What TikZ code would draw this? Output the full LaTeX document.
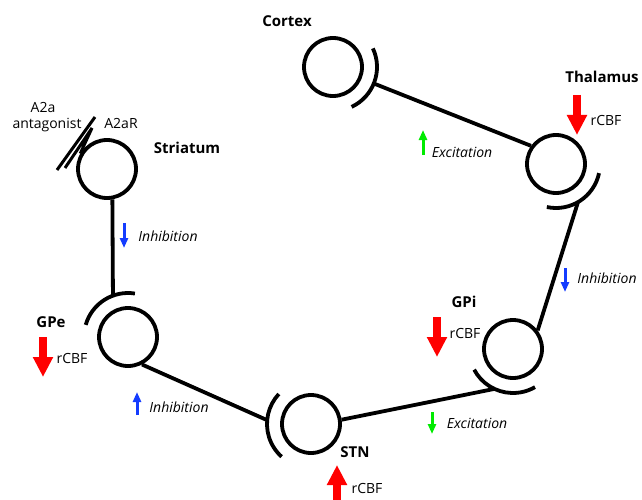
\documentclass[tikz,border=0pt]{standalone}
\usepackage{fontspec}
\setmainfont{Open Sans}
\usetikzlibrary{arrows.meta}

\definecolor{inhblue}{RGB}{20,60,255}
\definecolor{excgreen}{RGB}{0,235,0}

\tikzset{
  nucleus/.style={circle,draw,line width=3.8pt,minimum size=58pt,inner sep=0pt},
  syn/.style={line width=3.8pt},
  nuclabel/.style={font=\bfseries\fontsize{15}{17}\selectfont},
  plainlabel/.style={font=\fontsize{14}{16}\selectfont},
  effect/.style={font=\itshape\fontsize{14}{16}\selectfont},
  cbfarrow/.style={red,line width=8.5pt,-{Triangle[length=20pt,width=19pt]}},
  effarrow/.style={line width=3pt,-{Triangle[length=10pt,width=8pt]}},
}

\begin{document}
\begin{tikzpicture}[x=1pt,y=-1pt]
  \useasboundingbox (0,0) rectangle (642,500);

  % nuclei
  \node[nucleus] (cortex) at (333,67) {};
  \node[nucleus] (thal) at (556,164) {};
  \node[nucleus] (stri) at (107,169) {};
  \node[nucleus] (gpe) at (128,337) {};
  \node[nucleus] (stn) at (311,424) {};
  \node[nucleus] (gpi) at (513,349) {};

  % synaptic arcs
  \draw[syn] ([shift={(25:44pt)}]cortex.center) arc[start angle=25,end angle=-65,radius=44pt];
  \draw[syn] ([shift={(-12:44pt)}]thal.center) arc[start angle=-12,end angle=-102,radius=44pt];
  \draw[syn] ([shift={(81:44pt)}]gpe.center) arc[start angle=81,end angle=164,radius=44pt];
  \draw[syn] ([shift={(137:44pt)}]stn.center) arc[start angle=137,end angle=228,radius=44pt];
  \draw[syn] ([shift={(208:44pt)}]gpi.center) arc[start angle=208,end angle=300,radius=44pt];

  \coordinate (cortex-out) at ([shift={(-22:44pt)}]cortex.center);
  \coordinate (thal-out) at ([shift={(-60:44pt)}]thal.center);
  \coordinate (gpe-in) at ([shift={(110:44pt)}]gpe.center);
  \coordinate (stn-in) at ([shift={(175:44pt)}]stn.center);
  \coordinate (gpi-in) at ([shift={(245:44pt)}]gpi.center);

  % pathways
  \draw[syn] (cortex-out) -- (thal.144);
  \draw[syn] (thal-out) -- (gpi.37);
  \draw[syn] (stri.-80) -- (gpe-in);
  \draw[syn] (gpe.-63) -- (stn-in);
  \draw[syn] (stn.8) -- (gpi-in);

  % A2a receptor and antagonist
  \draw[line width=3pt,line join=miter] (65,168) -- (92,128) -- (stri.150);
  \draw[line width=3pt] (57,170) -- (95,117);
  \node[plainlabel] (a2a) at (43,107) {A2a};
  \node[plainlabel] (antag) at (47,125) {antagonist};
  \node[plainlabel] (a2ar) at (121,123) {A2aR};

  % names
  \node[nuclabel] (cortex-lbl) at (287,21) {Cortex};
  \node[nuclabel] (thal-lbl) at (602,77) {Thalamus};
  \node[nuclabel] (stri-lbl) at (187,148) {Striatum};
  \node[nuclabel] (gpe-lbl) at (51,322) {GPe};
  \node[nuclabel] (gpi-lbl) at (464,302) {GPi};
  \node[nuclabel] (stn-lbl) at (355,452) {STN};

  % blood flow
  \draw[cbfarrow] (577,95) -- (577,135);
  \draw[cbfarrow] (43,337) -- (43,377);
  \draw[cbfarrow] (437,317) -- (437,357);
  \draw[cbfarrow] (337,500) -- (337,465);
  \node[plainlabel] (thal-cbf) at (606,120) {rCBF};
  \node[plainlabel] (gpe-cbf) at (72,358) {rCBF};
  \node[plainlabel] (gpi-cbf) at (465,333) {rCBF};
  \node[plainlabel] (stn-cbf) at (367,488) {rCBF};

  % effects
  \draw[effarrow,excgreen] (423,155) -- (423,130);
  \draw[effarrow,excgreen] (432,412) -- (432,434);
  \draw[effarrow,inhblue] (565,268) -- (565,292);
  \draw[effarrow,inhblue] (124,223) -- (124,248);
  \draw[effarrow,inhblue] (137,415) -- (137,392);
  \node[effect] (exc1) at (462,152) {Excitation};
  \node[effect] (exc2) at (477,423) {Excitation};
  \node[effect] (inh1) at (607,278) {Inhibition};
  \node[effect] (inh2) at (168,236) {Inhibition};
  \node[effect] (inh3) at (179,407) {Inhibition};
\end{tikzpicture}
\end{document}
